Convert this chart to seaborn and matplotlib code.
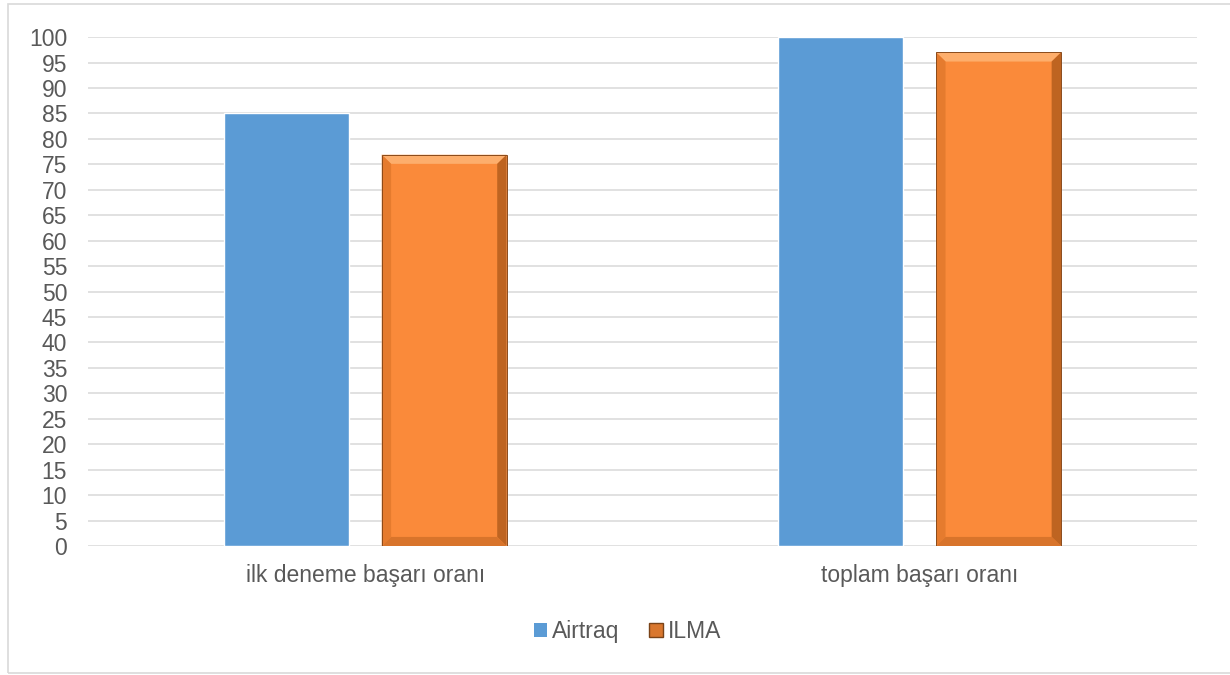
import pandas as pd
import matplotlib
matplotlib.use("Agg")
import matplotlib.pyplot as plt
import seaborn as sns
from matplotlib.patches import Polygon, Rectangle

# Chart data
categories = ["ilk deneme başarı oranı", "toplam başarı oranı"]
series = ["Airtraq", "ILMA"]
airtraq_vals = [85, 100]
ilma_vals = [76.9, 97]
y_ticks = list(range(0, 101, 5))

colors = {"Airtraq": "#5B9BD5", "ILMA": "#FA8A3A"}

df = pd.DataFrame({
    "category": categories * 2,
    "series": ["Airtraq"] * len(categories) + ["ILMA"] * len(categories),
    "value": airtraq_vals + ilma_vals,
})

sns.set_style("white")
plt.rcParams["font.family"] = ["Liberation Sans", "DejaVu Sans"]

fig = plt.figure(figsize=(12.3, 6.75), dpi=100)
ax = fig.add_axes([0.0715, 0.191, 0.9015, 0.754])

sns.barplot(data=df, x="category", y="value", hue="series", order=categories,
            hue_order=series, palette=colors, width=0.57, gap=0.21,
            saturation=1, legend=False, ax=ax)

ax.set_ylim(0, 100)
ax.set_xlim(-0.5, len(categories) - 0.5)
ax.set_yticks(y_ticks)
ax.yaxis.grid(True, color="#D9D9D9", linewidth=1.1)
ax.set_axisbelow(True)
for s in ax.spines.values():
    s.set_visible(False)
ax.tick_params(axis="y", length=0, pad=15, labelsize=16.5, labelcolor="#595959")
ax.tick_params(axis="x", length=0, pad=13, labelsize=16.5, labelcolor="#595959")
ax.set_xlabel("")
ax.set_ylabel("")

# bevel look on the ILMA bars, built from the bar geometry
ilma_bars = ax.patches[len(categories):2 * len(categories)]
for p in ilma_bars:
    x0, y0 = p.get_x(), p.get_y()
    w, h = p.get_width(), p.get_height()
    x1, y1 = x0 + w, y0 + h
    bx, by = w * 0.075, 1.8
    faces = [
        ([(x0, y1), (x1, y1), (x1 - bx, y1 - by), (x0 + bx, y1 - by)], "#FDAE6C"),
        ([(x0, y0), (x0, y1), (x0 + bx, y1 - by), (x0 + bx, y0 + by)], "#E57B2E"),
        ([(x1, y0), (x1, y1), (x1 - bx, y1 - by), (x1 - bx, y0 + by)], "#BE6421"),
        ([(x0, y0), (x1, y0), (x1 - bx, y0 + by), (x0 + bx, y0 + by)], "#D8742B"),
    ]
    for pts, c in faces:
        ax.add_patch(Polygon(pts, closed=True, facecolor=c, edgecolor="none", zorder=p.get_zorder() + 0.1))
    ax.add_patch(Rectangle((x0, y0), w, h, facecolor="none", edgecolor="#8A4A1A",
                           linewidth=0.7, zorder=p.get_zorder() + 0.2))

# legend
handles = [
    Rectangle((0, 0), 1, 1, facecolor=colors["Airtraq"], edgecolor="none"),
    Rectangle((0, 0), 1, 1, facecolor="#D9772E", edgecolor="#7A4318", linewidth=1),
]
fig.legend(handles, series, loc="center", bbox_to_anchor=(0.51, 0.064), ncol=2,
           frameon=False, fontsize=16.5, labelcolor="#595959", handlelength=0.6,
           handleheight=0.6, handletextpad=0.2, columnspacing=1.3)

# outer chart border
fig.patches.append(Rectangle((8 / 1230, 2 / 675), 1.2, 1 - 4 / 675 - 2 / 675,
                             transform=fig.transFigure, facecolor="none",
                             edgecolor="#D9D9D9", linewidth=1.2))

fig.savefig("out.png", dpi=100)
